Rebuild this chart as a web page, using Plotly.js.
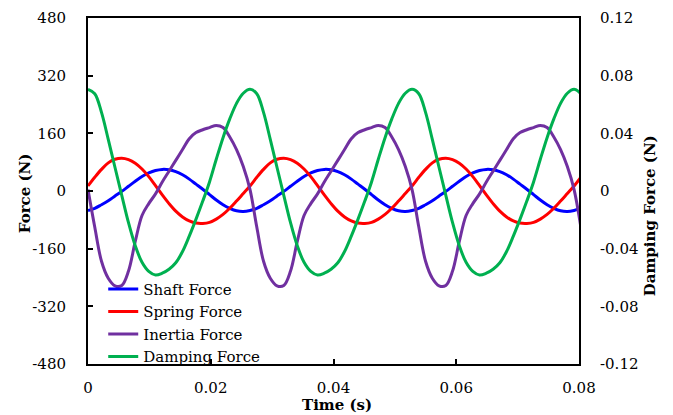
<!DOCTYPE html>
<html><head><meta charset="utf-8">
<script src="https://cdn.plot.ly/plotly-3.0.1.min.js"></script>
<style>html,body{margin:0;padding:0;background:#fff}#chart{width:673px;height:415px}</style>
</head><body><div id="chart"></div>
<script>
// Time (s)
const time = [0, 0.0011, 0.0022, 0.0033, 0.0044, 0.0055, 0.0066, 0.0077, 0.0088, 0.0099, 0.011, 0.0121, 0.0132, 0.0143, 0.0154, 0.0165, 0.0176, 0.0187, 0.0198, 0.0209, 0.022, 0.0231, 0.0242, 0.0253,
  0.0264, 0.0275, 0.0286, 0.0297, 0.0308, 0.0319, 0.033, 0.0341, 0.0352, 0.0363, 0.0374, 0.0385, 0.0396, 0.0407, 0.0418, 0.0429, 0.044, 0.0451, 0.0462, 0.0473, 0.0484, 0.0495, 0.0506, 0.0517,
  0.0528, 0.0539, 0.055, 0.0561, 0.0572, 0.0583, 0.0594, 0.0605, 0.0616, 0.0627, 0.0638, 0.0649, 0.066, 0.0671, 0.0682, 0.0693, 0.0704, 0.0715, 0.0726, 0.0737, 0.0748, 0.0759, 0.077, 0.0781,
  0.0792, 0.0803];
// Force (N), left axis
const shaftForce = [-54, -48, -38, -27, -14, -1, 13, 27, 40, 50, 57, 60, 59, 54, 45, 33, 19, 5, -10, -25, -38, -48, -55, -57,
  -54, -48, -38, -27, -14, -1, 13, 27, 40, 50, 57, 60, 59, 54, 45, 33, 19, 5, -10, -25, -38, -48, -55, -57,
  -54, -48, -38, -27, -14, -1, 13, 27, 40, 50, 57, 60, 59, 54, 45, 33, 19, 5, -10, -25, -38, -48, -55, -57,
  -54, -48];
const springForce = [14, 38, 60, 78, 88, 91, 87, 77, 61, 40, 15, -11, -35, -56, -72, -83, -89, -90, -87, -78, -65, -48, -28, -7,
  14, 38, 60, 78, 88, 91, 87, 77, 61, 40, 15, -11, -35, -56, -72, -83, -89, -90, -87, -78, -65, -48, -28, -7,
  14, 38, 60, 78, 88, 91, 87, 77, 61, 40, 15, -11, -35, -56, -72, -83, -89, -90, -87, -78, -65, -48, -28, -7,
  14, 38];
const inertiaForce = [4, -100, -195, -242, -263, -262, -222, -140, -68, -35, -8, 25, 55, 85, 115, 145, 162, 170, 176, 182, 176, 150, 115, 68,
  4, -100, -195, -242, -263, -262, -222, -140, -68, -35, -8, 25, 55, 85, 115, 145, 162, 170, 176, 182, 176, 150, 115, 68,
  4, -100, -195, -242, -263, -262, -222, -140, -68, -35, -8, 25, 55, 85, 115, 145, 162, 170, 176, 182, 176, 150, 115, 68,
  4, -100];
// Damping Force (N), right axis
const dampingForce = [0.0705, 0.0675, 0.0545, 0.0358, 0.0163, -0.003, -0.022, -0.038, -0.0495, -0.0558, -0.0583, -0.057, -0.0543, -0.0498, -0.042, -0.0313, -0.0195, -0.007, 0.0063, 0.022, 0.037, 0.05, 0.0608, 0.0678,
  0.0705, 0.0675, 0.0545, 0.0358, 0.0163, -0.003, -0.022, -0.038, -0.0495, -0.0558, -0.0583, -0.057, -0.0543, -0.0498, -0.042, -0.0313, -0.0195, -0.007, 0.0063, 0.022, 0.037, 0.05, 0.0608, 0.0678,
  0.0705, 0.0675, 0.0545, 0.0358, 0.0163, -0.003, -0.022, -0.038, -0.0495, -0.0558, -0.0583, -0.057, -0.0543, -0.0498, -0.042, -0.0313, -0.0195, -0.007, 0.0063, 0.022, 0.037, 0.05, 0.0608, 0.0678,
  0.0705, 0.0675];

const seriesNames = ['Shaft Force', 'Spring Force', 'Inertia Force', 'Damping Force'];
const seriesColors = ['#0000FF', '#FF0000', '#7030A0', '#00B050'];

const xTickVals = [0, 0.02, 0.04, 0.06, 0.08];
const xTickText = ['0', '0.02', '0.04', '0.06', '0.08'];
const leftTickVals = [-480, -320, -160, 0, 160, 320, 480];
const leftTickText = ['-480', '-320', '-160', '0', '160', '320', '480'];
const rightTickVals = [-0.12, -0.08, -0.04, 0, 0.04, 0.08, 0.12];
const rightTickText = ['-0.12', '-0.08', '-0.04', '0', '0.04', '0.08', '0.12'];

const xTitle = 'Time (s)';
const leftTitle = 'Force (N)';
const rightTitle = 'Damping Force (N)';

const ys = [shaftForce, springForce, inertiaForce, dampingForce];
const traces = ys.map((y, i) => ({
  x: time, y: y, name: seriesNames[i], type: 'scatter', mode: 'lines',
  yaxis: i === 3 ? 'y2' : 'y',
  line: {color: seriesColors[i], width: 3, shape: 'spline', smoothing: 1}
}));

const tfont = {family: 'DejaVu Serif, serif', size: 15, color: '#000'};
const layout = {
  width: 673, height: 415,
  margin: {l: 88, r: 94, t: 18, b: 51, pad: 0},
  paper_bgcolor: '#fff', plot_bgcolor: '#fff',
  font: tfont,
  showlegend: true,
  legend: {x: 0.031, y: 0.2635, xanchor: 'left', yanchor: 'top', bgcolor: 'rgba(0,0,0,0)', borderwidth: 0,
    font: tfont, tracegroupgap: 0},
  xaxis: {range: [0, 0.08], tickvals: xTickVals, ticktext: xTickText, ticks: 'inside', ticklen: 5, tickwidth: 2,
    tickcolor: '#000', showline: true, linecolor: '#000', linewidth: 2, mirror: true, showgrid: false, zeroline: false,
    ticklabelstandoff: 9},
  yaxis: {range: [-480, 480], tickvals: leftTickVals, ticktext: leftTickText, ticks: 'inside', ticklen: 5, tickwidth: 2,
    tickcolor: '#000', showline: true, linecolor: '#000', linewidth: 2, showgrid: false, zeroline: false,
    ticklabelstandoff: 17},
  yaxis2: {range: [-0.12, 0.12], tickvals: rightTickVals, ticktext: rightTickText, overlaying: 'y', side: 'right',
    ticks: '', showline: true, linecolor: '#000', linewidth: 2, showgrid: false, zeroline: false,
    ticklabelstandoff: 16},
  annotations: [
    {text: '<b>' + xTitle + '</b>', xref: 'paper', yref: 'paper', x: 0.5065, y: -0.1175,
      xanchor: 'center', yanchor: 'middle', showarrow: false, font: tfont},
    {text: '<b>' + leftTitle + '</b>', xref: 'paper', yref: 'paper', x: -0.1294, y: 0.495, textangle: -90,
      xanchor: 'center', yanchor: 'middle', showarrow: false, font: tfont},
    {text: '<b>' + rightTitle + '</b>', xref: 'paper', yref: 'paper', x: 1.1453, y: 0.428, textangle: -90,
      xanchor: 'center', yanchor: 'middle', showarrow: false, font: tfont}
  ]
};
Plotly.newPlot('chart', traces, layout, {displayModeBar: false, staticPlot: true});
</script></body></html>
